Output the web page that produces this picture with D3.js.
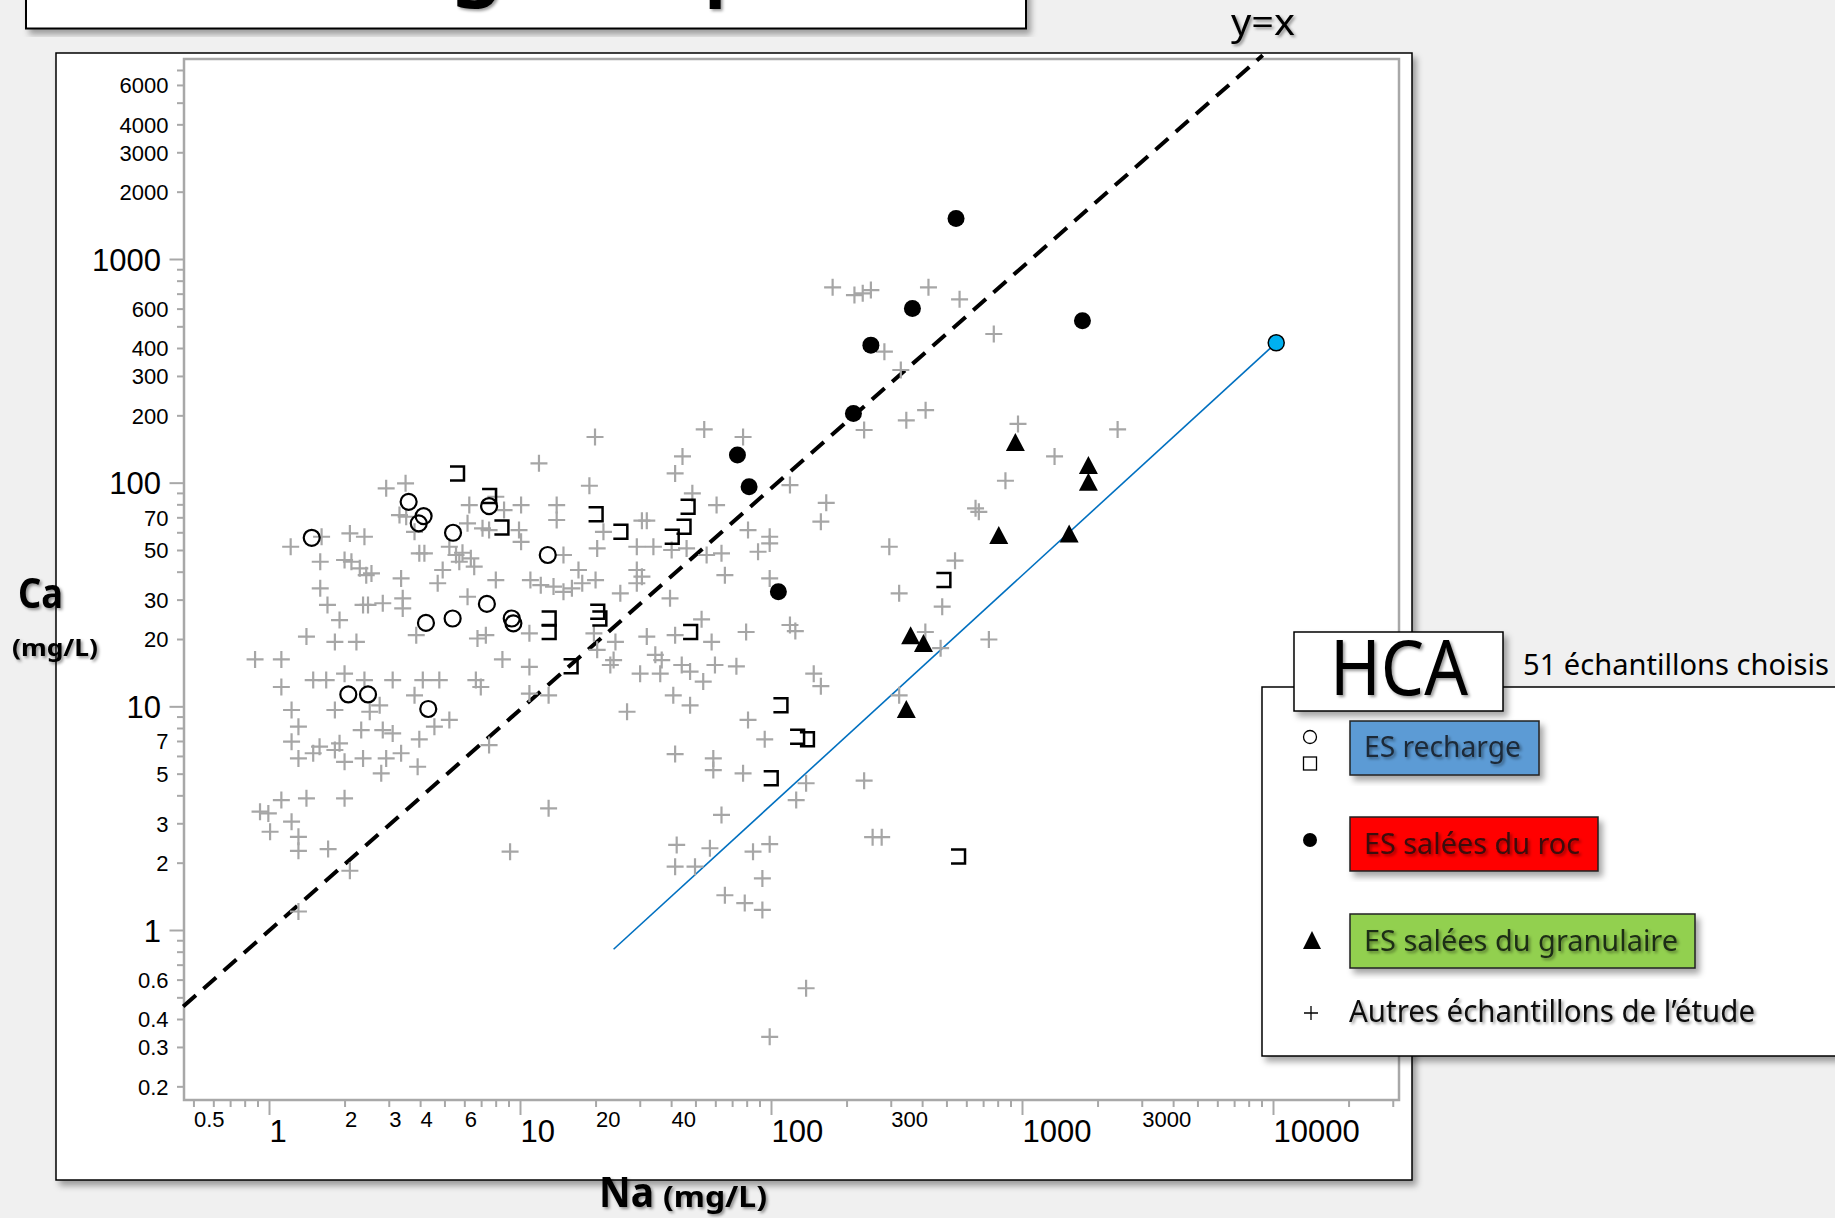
<!DOCTYPE html>
<html>
<head>
<meta charset="utf-8">
<script src="https://cdn.jsdelivr.net/npm/d3@7"></script>
<style>
html, body {margin: 0; padding: 0; background: #f0f0f0; overflow: hidden;}
svg {display: block; font-family: "Noto Sans", "Open Sans", sans-serif;}
</style>
</head>
<body>
<div id="chart"></div>
<script>
// ---- data (Na, Ca in mg/L) ----
// other samples of the study (grey +)
const autres = [
  [54.2,173],[19.9,160],[44.4,131],[11.9,122],[41.5,110],[18.9,96.9],[2.93,94.3],[3.50,99.3],[48.6,89.6],[8.01,86.5],
  [6.28,79.4],[8.64,75.4],[10.1,79.4],[14.0,79.4],[60.7,79.4],[3.31,71.6],[3.52,70.4],[14.0,68.1],[30.6,67.6],[32.0,67.6],
  [6.18,65.8],[7.09,62.5],[7.53,61.4],[9.91,61.4],[3.80,60.3],[21.5,60.3],[1.22,51.7],[1.62,57.3],[2.10,59.3],[2.40,57.3],
  [5.23,51.7],[10.1,54.4],[20.3,50.8],[29.2,51.7],[34.0,51.7],[40.2,50.0],[46.1,50.8],[55.4,47.5],[63.5,48.3],[3.97,48.3],
  [4.16,48.3],[5.56,47.5],[5.90,48.6],[5.73,44.3],[6.37,45.9],[14.9,47.5],[1.60,44.3],[2.00,45.1],[2.13,44.3],[2.30,41.4],
  [2.44,38.6],[2.56,39.3],[3.36,37.3],[4.92,40.7],[4.70,35.5],[6.57,42.1],[8.01,36.7],[11.0,36.7],[12.1,34.8],[13.6,34.3],
  [14.9,32.5],[16.1,33.7],[17.1,40.7],[17.7,35.5],[20.0,36.7],[29.2,40.7],[30.6,38.0],[29.2,35.5],[25.1,32.0],[1.60,33.7],
  [1.71,28.4],[2.37,28.4],[2.48,28.4],[2.84,28.9],[3.41,30.4],[3.41,27.4],[1.91,24.3],[6.18,30.9],[39.6,30.4],[52.9,24.5],[65.5,38.6],
  [1.41,20.5],[1.83,19.4],[2.23,19.4],[3.86,20.8],[6.77,20.1],[7.31,20.8],[10.9,21.2],[19.7,21.2],[24.0,19.4],[32.0,20.5],
  [41.5,20.8],[58.0,19.4],[0.880,16.2],[1.12,16.2],[8.51,16.2],[20.3,17.9],[23.6,16.1],[22.9,15.3],[34.6,17.0],[36.7,16.1],
  [10.9,15.0],[44.1,15.3],[59.8,15.3],[1.50,13.1],[1.69,13.1],[2.00,14.0],[2.40,13.1],[3.11,13.1],[4.10,13.1],[4.77,13.1],
  [6.67,13.1],[6.98,12.2],[30.1,14.0],[36.2,14.0],[47.6,14.3],[53.7,12.9],[1.12,12.2],[3.80,11.2],[10.9,11.4],[13.0,11.2],
  [40.8,11.2],[47.6,10.1],[26.7,9.46],[1.23,9.63],[1.83,9.63],[2.52,9.46],[2.76,10.1],[5.23,8.69],[1.31,8.11],[2.33,7.83],
  [2.84,7.83],[3.11,7.57],[4.56,8.11],[1.23,6.95],[1.59,6.60],[1.91,6.83],[3.97,7.12],[7.53,6.71],[1.31,5.85],[1.50,6.17],
  [1.83,6.38],[2.00,5.65],[2.37,5.85],[2.93,5.85],[3.36,6.17],[3.91,5.37],[2.80,5.02],[41.5,6.12],[58.9,5.85],[58.9,5.19],
  [1.12,3.81],[1.41,3.88],[2.00,3.88],[0.921,3.38],[0.994,3.32],[1.23,3.05],[1.01,2.75],[1.31,2.61],[1.31,2.26],[1.72,2.30],
  [13.0,3.50],[63.5,3.27],[42.1,2.40],[57.1,2.32],[41.5,1.92],[49.8,1.92],[9.13,2.24],[2.10,1.84],[65.5,1.43],[1.31,1.21],
  [176,747],[215,690],[232,702],[250,726],[424,747],[564,660],[772,462],[283,385],[329,319],[413,211],
  [346,190],[235,172],[964,183],[2404,173],[77.4,160],[1348,131],[859,102],[119,97.6],[166,81.3],[158,66.9],
  [653,76.8],[673,74.1],[81.0,61.4],[98.8,57.3],[98.8,53.5],[88.8,49.1],[296,51.7],[541,44.8],[98.8,37.3],[324,32.0],
  [481,27.9],[119,23.1],[125,21.7],[79.6,21.5],[412,21.5],
  [738,19.9],[474,18.2],[72.8,15.1],[148,14.0],[158,12.3],[324,11.2],[81.0,8.69],[94.4,7.12],[77.4,5.02],[138,4.53],
  [126,3.81],[235,4.65],[254,2.60],[276,2.60],[98.8,2.42],[84.8,2.24],[92.4,1.70],[78.6,1.32],[92.4,1.23],[138,0.549],[98.8,0.333]
];
// ES recharge, circles
const rechargeCercles = [
  [1.48,56.7],[3.60,82.1],[4.13,70.9],[3.95,65.8],[5.41,59.7],[7.53,78.6],[12.9,47.5],[7.38,28.7],
  [5.39,24.7],[4.22,23.6],[9.27,24.7],[9.41,23.5],[2.07,11.3],[2.48,11.3],[4.31,9.73]
];
// ES recharge, squares
const rechargeCarres = [
  [5.61,110],[7.53,87.1],[8.43,63.1],[20.0,72.2],[25.1,60.3],[46.5,78.0],[44.8,63.5],[40.2,57.3],[13.0,24.7],[13.0,21.5],
  [20.3,26.5],[20.7,24.7],[47.6,21.5],[15.9,15.1],[486,36.7],[109,10.1],[127,7.31],[139,7.12],[99.7,4.77],[556,2.13]
];
// ES salées du roc
const saleesRoc = [[546,1519],[366,601],[250,412],[1741,529],[213,204],[73.5,133],[81.8,95.9],[107,32.5]];
// ES salées du granulaire
const saleesGranulaire = [[941,152],[1839,120],[1839,101],[808,58.3],[1541,59.3],[360,20.8],[405,19.2],[346,9.73]];
// sea water point and its dilution line
const eauMer = [10300, 422];
const ligneMelange = [[23.6, 0.82], [10300, 422]];
// "y = x" reference line, ends as read on the picture
const ligneYX = [[0.455, 0.455], [9100, 8150]];

// axis labels
const xLabels = [0.5, 1, 2, 3, 4, 6, 10, 20, 40, 100, 300, 1000, 3000, 10000];
const yLabels = [0.2, 0.3, 0.4, 0.6, 1, 2, 3, 5, 7, 10, 20, 30, 50, 70, 100, 200, 300, 400, 600, 1000, 2000, 3000, 4000, 6000];
const legendItems = ["ES recharge", "ES salées du roc", "ES salées du granulaire", "Autres échantillons de l’étude"];

// ---- layout ----
const W = 1835, H = 1218;
const plot = {left: 184, top: 59, right: 1399, bottom: 1100};

const svg = d3.select("#chart").append("svg")
    .attr("width", W)
    .attr("height", H);

const defs = svg.append("defs");
function addShadow(id, dx, dy, sd, op) {
    defs.append("filter").attr("id", id)
        .attr("x", "-10%").attr("y", "-10%").attr("width", "125%").attr("height", "130%")
        .append("feDropShadow")
        .attr("dx", dx).attr("dy", dy).attr("stdDeviation", sd)
        .attr("flood-color", "#000").attr("flood-opacity", op);
}
addShadow("boxShadow", 4, 5, 3, 0.35);
addShadow("textShadow", 2, 2, 1.5, 0.4);

// title box, cut at the top of the page
svg.append("rect")
    .attr("x", 26).attr("y", -10).attr("width", 1000).attr("height", 38.5)
    .attr("fill", "#fff").attr("stroke", "#000").attr("stroke-width", 2)
    .attr("filter", "url(#boxShadow)");
const titleText = "Mélange de pôles";
const title = svg.append("text")
    .attr("x", 0).attr("y", -12)
    .style("font-size", "86px").style("font-weight", 600)
    .attr("filter", "url(#textShadow)")
    .text(titleText);
const gi = titleText.indexOf("g");
const gMid = (title.node().getStartPositionOfChar(gi).x + title.node().getEndPositionOfChar(gi).x) / 2;
title.attr("x", 477 - gMid);

// outer frame
svg.append("rect")
    .attr("x", 56).attr("y", 53).attr("width", 1356).attr("height", 1127)
    .attr("fill", "#fff").attr("stroke", "#000").attr("stroke-width", 1.5)
    .attr("filter", "url(#boxShadow)");

// scales
const x = d3.scaleLog().domain([1, 10000]).range([269, 1273]);
const y = d3.scaleLog().domain([1, 1000]).range([930, 259]);

const isMajor = d => Math.abs(Math.log10(d) - Math.round(Math.log10(d))) < 1e-6;
const findLabel = (arr, d) => arr.find(v => Math.abs(v - d) / v < 1e-6);

// plot border
svg.append("rect")
    .attr("x", plot.left).attr("y", plot.top)
    .attr("width", plot.right - plot.left).attr("height", plot.bottom - plot.top)
    .attr("fill", "#fff").attr("stroke", "#a8a8a8").attr("stroke-width", 2.5);

// y axis
const yTicks = y.copy().domain([0.2, 7000]).ticks();
const gY = svg.append("g")
    .attr("transform", `translate(${plot.left},0)`)
    .call(d3.axisLeft(y).tickValues(yTicks).tickSize(7)
        .tickFormat(d => { const l = findLabel(yLabels, d); return l === undefined ? "" : String(l); }));
gY.select(".domain").remove();
gY.selectAll(".tick line").attr("stroke", "#a8a8a8").attr("stroke-width", 2)
    .attr("x2", d => isMajor(d) ? -14.5 : -7);
gY.selectAll(".tick text")
    .attr("fill", "#000").attr("font-family", null)
    .attr("x", d => isMajor(d) ? -23 : -15.5)
    .attr("dy", "0.36em")
    .style("font-size", d => isMajor(d) ? "31px" : "22px");

// x axis
const xTicks = x.copy().domain([0.5, 30000]).ticks();
const gX = svg.append("g")
    .attr("transform", `translate(0,${plot.bottom})`)
    .call(d3.axisBottom(x).tickValues(xTicks).tickSize(7)
        .tickFormat(d => { const l = findLabel(xLabels, d); return l === undefined ? "" : String(l); }));
gX.select(".domain").remove();
gX.selectAll(".tick line").attr("stroke", "#a8a8a8").attr("stroke-width", 2)
    .attr("y2", d => isMajor(d) ? 15 : 7);
gX.selectAll(".tick text")
    .attr("fill", "#000").attr("font-family", null)
    .attr("text-anchor", "start")
    .attr("x", 0)
    .attr("dy", 0)
    .attr("y", d => isMajor(d) ? 41.5 : 27)
    .style("font-size", d => isMajor(d) ? "31px" : "22px");

// y = x line
svg.append("path")
    .datum(ligneYX)
    .attr("fill", "none").attr("stroke", "#000").attr("stroke-width", 4)
    .attr("stroke-dasharray", "17,10")
    .attr("d", d3.line().x(d => x(d[0])).y(d => y(d[1])));

// dilution line to sea water
svg.append("path")
    .datum(ligneMelange)
    .attr("fill", "none").attr("stroke", "#0070c0").attr("stroke-width", 1.6)
    .attr("d", d3.line().x(d => x(d[0])).y(d => y(d[1])));

// grey crosses
svg.append("g").selectAll("path")
    .data(autres).enter().append("path")
    .attr("transform", d => `translate(${x(d[0])},${y(d[1])})`)
    .attr("d", "M-8.5,0H8.5M0,-8.5V8.5")
    .attr("stroke", "#a6a6a6").attr("stroke-width", 2.2).attr("fill", "none");

// recharge squares (drawn open on the left as in the original)
svg.append("g").selectAll("path")
    .data(rechargeCarres).enter().append("path")
    .attr("transform", d => `translate(${x(d[0])},${y(d[1])})`)
    .attr("d", "M-7,-7H7V7H-7")
    .attr("stroke", "#000").attr("stroke-width", 2.5).attr("fill", "none");

// recharge circles
svg.append("g").selectAll("circle")
    .data(rechargeCercles).enter().append("circle")
    .attr("cx", d => x(d[0])).attr("cy", d => y(d[1])).attr("r", 8)
    .attr("stroke", "#000").attr("stroke-width", 2.2).attr("fill", "none");

// rock salty waters
svg.append("g").selectAll("circle")
    .data(saleesRoc).enter().append("circle")
    .attr("cx", d => x(d[0])).attr("cy", d => y(d[1])).attr("r", 8.5)
    .attr("fill", "#000");

// granular salty waters
svg.append("g").selectAll("path")
    .data(saleesGranulaire).enter().append("path")
    .attr("transform", d => `translate(${x(d[0])},${y(d[1])})`)
    .attr("d", "M0,-9L9.5,9H-9.5Z")
    .attr("fill", "#000");

// sea water
svg.append("circle")
    .attr("cx", x(eauMer[0])).attr("cy", y(eauMer[1])).attr("r", 8)
    .attr("fill", "#00b0f0").attr("stroke", "#000").attr("stroke-width", 1.5);

// axis titles
svg.append("text").attr("x", 1231).attr("y", 35)
    .attr("textLength", 64).attr("lengthAdjust", "spacingAndGlyphs")
    .style("font-size", "37px").attr("filter", "url(#textShadow)").text("y=x");
svg.append("text").attr("x", 18).attr("y", 608)
    .attr("textLength", 45).attr("lengthAdjust", "spacingAndGlyphs")
    .style("font-size", "42px").style("font-weight", 700)
    .attr("filter", "url(#textShadow)").text("Ca");
svg.append("text").attr("x", 12).attr("y", 656)
    .attr("textLength", 86).attr("lengthAdjust", "spacingAndGlyphs")
    .style("font-size", "24px").style("font-weight", 700)
    .attr("filter", "url(#textShadow)").text("(mg/L)");
svg.append("text").attr("x", 599).attr("y", 1207)
    .attr("textLength", 55).attr("lengthAdjust", "spacingAndGlyphs")
    .style("font-size", "42px").style("font-weight", 700)
    .attr("filter", "url(#textShadow)").text("Na");
svg.append("text").attr("x", 663).attr("y", 1207)
    .attr("textLength", 104).attr("lengthAdjust", "spacingAndGlyphs")
    .style("font-size", "28px").style("font-weight", 700)
    .attr("filter", "url(#textShadow)").text("(mg/L)");

// ---- legend ----
const lg = svg.append("g");
lg.append("rect")
    .attr("x", 1262).attr("y", 687).attr("width", 620).attr("height", 369)
    .attr("fill", "#fff").attr("stroke", "#000").attr("stroke-width", 1.5)
    .attr("filter", "url(#boxShadow)");
lg.append("rect")
    .attr("x", 1294).attr("y", 632).attr("width", 209).attr("height", 79)
    .attr("fill", "#fff").attr("stroke", "#000").attr("stroke-width", 1.5)
    .attr("filter", "url(#boxShadow)");
lg.append("text").attr("x", 1399).attr("y", 695).attr("text-anchor", "middle")
    .attr("textLength", 138).attr("lengthAdjust", "spacingAndGlyphs")
    .style("font-size", "76px").attr("filter", "url(#textShadow)").text("HCA");
lg.append("text").attr("x", 1523).attr("y", 675)
    .attr("textLength", 306).attr("lengthAdjust", "spacingAndGlyphs")
    .style("font-size", "29px").text("51 échantillons choisis");

const boxes = [
    {y: 721, w: 189, fill: "#5b9bd5", text: "#1e2a38", len: 157, base: 757},
    {y: 817, w: 248, fill: "#ff0000", text: "#3a0a0a", len: 216, base: 854},
    {y: 914, w: 345, fill: "#92d050", text: "#1f2d14", len: 314, base: 951}
];
boxes.forEach((b, i) => {
    lg.append("rect").attr("x", 1350).attr("y", b.y).attr("width", b.w).attr("height", 54)
        .attr("fill", b.fill).attr("stroke", "#222").attr("stroke-width", 1.5)
        .attr("filter", "url(#boxShadow)");
    lg.append("text").attr("x", 1364).attr("y", b.base)
        .attr("textLength", b.len).attr("lengthAdjust", "spacingAndGlyphs")
        .style("font-size", "29px").attr("fill", b.text)
        .attr("filter", "url(#textShadow)").text(legendItems[i]);
});
lg.append("text").attr("x", 1349).attr("y", 1022)
    .attr("textLength", 406).attr("lengthAdjust", "spacingAndGlyphs")
    .style("font-size", "30px").attr("fill", "#111")
    .attr("filter", "url(#textShadow)").text(legendItems[3]);

// legend symbols
lg.append("circle").attr("cx", 1310).attr("cy", 737).attr("r", 6.5)
    .attr("fill", "none").attr("stroke", "#000").attr("stroke-width", 1.3);
lg.append("rect").attr("x", 1303.5).attr("y", 757).attr("width", 13).attr("height", 13)
    .attr("fill", "none").attr("stroke", "#000").attr("stroke-width", 1.3);
lg.append("circle").attr("cx", 1310).attr("cy", 840).attr("r", 7).attr("fill", "#000");
lg.append("path").attr("transform", "translate(1312,940)").attr("d", "M0,-9L9,9H-9Z").attr("fill", "#000");
lg.append("path").attr("transform", "translate(1311,1013)").attr("d", "M-7,0H7M0,-7V7")
    .attr("stroke", "#000").attr("stroke-width", 1.3);
</script>
</body>
</html>
